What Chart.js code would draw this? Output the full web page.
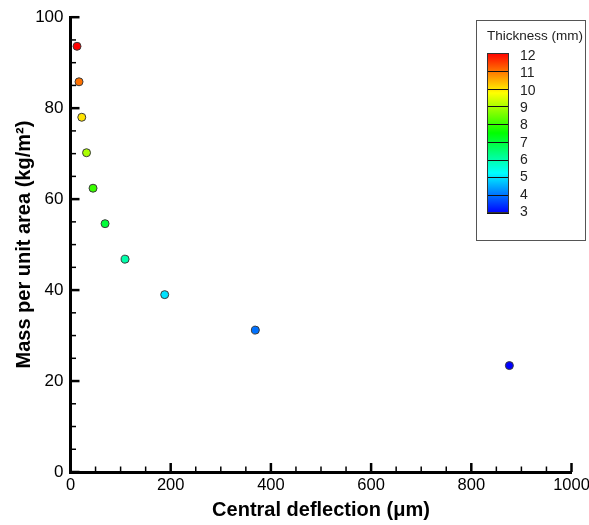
<!DOCTYPE html>
<html>
<head>
<meta charset="utf-8">
<title>Mass per unit area vs central deflection</title>
<script src="https://cdn.jsdelivr.net/npm/chart.js@4.4.0/dist/chart.umd.min.js"></script>
<style>
  html, body { margin: 0; padding: 0; background: #fff; }
  #wrap { width: 589px; height: 525px; }
</style>
</head>
<body>
<div id="wrap"><canvas id="chart" width="589" height="525"></canvas></div>
<script>
// data
const thickness = [12, 11, 10, 9, 8, 7, 6, 5, 4, 3];                        // mm
const deflection = [13, 17, 22.5, 32, 45, 69, 109, 188, 369, 876];          // µm
const massPerArea = [93.6, 85.8, 78, 70.2, 62.4, 54.6, 46.8, 39, 31.2, 23.4]; // kg/m²
const legendLevels = [12, 11, 10, 9, 8, 7, 6, 5, 4, 3];
const xTicks = [0, 200, 400, 600, 800, 1000];
const yTicks = [0, 20, 40, 60, 80, 100];

const FONT = "'Liberation Sans', Arial, Helvetica, sans-serif";
const tMin = Math.min(...legendLevels);
const tMax = Math.max(...legendLevels);

// rainbow colormap: blue -> cyan -> green -> yellow -> red
const mapStops = [[0, 0, 255], [0, 255, 255], [0, 255, 0], [255, 255, 0], [255, 0, 0]];

function rainbow(f) {
    f = Math.max(0, Math.min(1, f)) * (mapStops.length - 1);
    const i = Math.min(Math.floor(f), mapStops.length - 2);
    const k = f - i;
    const a = mapStops[i], b = mapStops[i + 1];
    const c = a.map((v, j) => Math.round(v + (b[j] - v) * k));
    return `rgb(${c[0]}, ${c[1]}, ${c[2]})`;
}

function thicknessColor(t) {
    return rainbow((t - tMin) / (tMax - tMin));
}

// tick marks drawn inside the plot area (major + 3 minors between)
const innerTicks = {
    id: 'innerTicks',
    afterDraw(chart) {
        const { ctx, chartArea, scales } = chart;
        ctx.save();
        ctx.strokeStyle = '#000';

        const drawAxis = (scale, ticks, horizontal) => {
            const step = ticks[1] - ticks[0];
            const minor = step / 4;
            for (let v = ticks[0]; v <= ticks[ticks.length - 1] + 1e-9; v += minor) {
                const major = Math.abs(v / step - Math.round(v / step)) < 1e-6;
                const len = major ? 9 : 5.5;
                ctx.lineWidth = major ? 2.5 : 1.5;
                const p = scale.getPixelForValue(v);
                ctx.beginPath();
                if (horizontal) {
                    ctx.moveTo(p, chartArea.bottom);
                    ctx.lineTo(p, chartArea.bottom - len);
                } else {
                    ctx.moveTo(chartArea.left, p);
                    ctx.lineTo(chartArea.left + len, p);
                }
                ctx.stroke();
            }
        };
        drawAxis(scales.x, xTicks, true);
        drawAxis(scales.y, yTicks, false);
        ctx.restore();
    }
};

// colour bar legend in the top right corner
const colorbarLegend = {
    id: 'colorbarLegend',
    afterDraw(chart) {
        const ctx = chart.ctx;
        ctx.save();

        // frame
        ctx.fillStyle = '#fff';
        ctx.fillRect(476.5, 20.5, 109, 220);
        ctx.strokeStyle = '#555';
        ctx.lineWidth = 1;
        ctx.strokeRect(476.5, 20.5, 109, 220);

        ctx.fillStyle = '#222';
        ctx.font = `13.5px ${FONT}`;
        ctx.textAlign = 'left';
        ctx.textBaseline = 'middle';
        ctx.fillText('Thickness (mm)', 487, 36);

        const barX = 487, barW = 22, barTop = 53, barBottom = 213;
        const grad = ctx.createLinearGradient(0, barTop, 0, barBottom);
        mapStops.forEach((c, k) => {
            grad.addColorStop(1 - k / (mapStops.length - 1), `rgb(${c[0]}, ${c[1]}, ${c[2]})`);
        });
        ctx.fillStyle = grad;
        ctx.fillRect(barX, barTop, barW, barBottom - barTop);

        // band separators
        ctx.strokeStyle = '#111';
        ctx.lineWidth = 1;
        legendLevels.forEach(lv => {
            const y = barTop + (tMax - lv) / (tMax - tMin) * (barBottom - barTop);
            ctx.beginPath();
            ctx.moveTo(barX, Math.round(y) + 0.5);
            ctx.lineTo(barX + barW, Math.round(y) + 0.5);
            ctx.stroke();
        });
        ctx.strokeStyle = '#333';
        ctx.strokeRect(barX + 0.5, barTop + 0.5, barW - 1, barBottom - barTop - 1);

        // level labels
        ctx.fillStyle = '#222';
        ctx.font = `14px ${FONT}`;
        legendLevels.forEach(lv => {
            const y = 56 + (tMax - lv) / (tMax - tMin) * (212 - 56);
            ctx.fillText(String(lv), 520, y);
        });

        ctx.restore();
    }
};

const points = deflection.map((d, i) => ({ x: d, y: massPerArea[i] }));

new Chart(document.getElementById('chart').getContext('2d'), {
    type: 'scatter',
    data: {
        datasets: [{
            label: 'Mass per unit area',
            data: points,
            pointRadius: 4,
            pointHoverRadius: 4,
            pointBackgroundColor: thickness.map(thicknessColor),
            pointBorderColor: '#3a3a3a',
            pointBorderWidth: 1
        }]
    },
    options: {
        responsive: false,
        animation: false,
        layout: { padding: { left: 0, right: 17.5, top: 16, bottom: 0 } },
        plugins: {
            legend: { display: false },
            tooltip: { enabled: false }
        },
        scales: {
            x: {
                type: 'linear',
                min: xTicks[0],
                max: xTicks[xTicks.length - 1],
                afterBuildTicks: s => { s.ticks = xTicks.map(v => ({ value: v })); },
                afterFit: s => {
                    s.height = 53;
                    s.paddingLeft = 0;
                    s.paddingRight = 0;
                },
                grid: { display: false, drawTicks: false },
                border: { display: true, color: '#000', width: 3 },
                ticks: {
                    color: '#000',
                    padding: 4,
                    maxRotation: 0,
                    callback: v => String(v),
                    font: { family: FONT, size: 16.5 }
                },
                title: {
                    display: true,
                    text: 'Central deflection (μm)',
                    color: '#000',
                    font: { family: FONT, size: 20, weight: 'bold' },
                    padding: { top: 0, bottom: 3 }
                }
            },
            y: {
                type: 'linear',
                min: yTicks[0],
                max: yTicks[yTicks.length - 1],
                afterBuildTicks: s => { s.ticks = yTicks.map(v => ({ value: v })); },
                afterFit: s => { s.width = 70.5; },
                grid: { display: false, drawTicks: false },
                border: { display: true, color: '#000', width: 3 },
                ticks: {
                    color: '#000',
                    padding: 7,
                    callback: v => String(v),
                    font: { family: FONT, size: 17 }
                },
                title: {
                    display: true,
                    text: 'Mass per unit area (kg/m²)',
                    color: '#000',
                    font: { family: FONT, size: 20, weight: 'bold' },
                    padding: { top: 12, bottom: 0 }
                }
            }
        }
    },
    plugins: [innerTicks, colorbarLegend]
});
</script>
</body>
</html>
